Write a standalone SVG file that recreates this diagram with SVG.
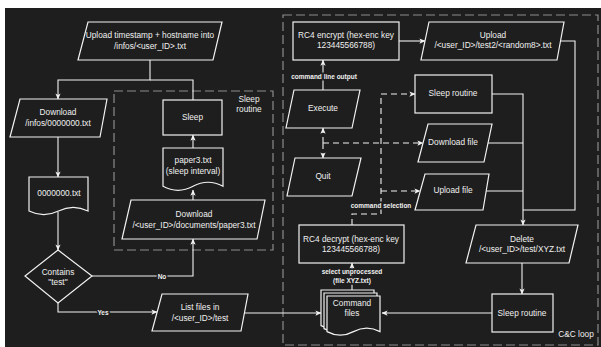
<svg xmlns="http://www.w3.org/2000/svg" width="601" height="347" viewBox="0 0 601 347">
<defs>
<style>
.bg{fill:#1e1e1e}
.sh{fill:#1e1e1e;stroke:#f2f2f2;stroke-width:1.2}
.ct{fill:none;stroke:#8c8c8c;stroke-width:1.2;stroke-dasharray:9 4}
.e{fill:none;stroke:#f2f2f2;stroke-width:1.1}
.d{fill:none;stroke:#f2f2f2;stroke-width:1.1;stroke-dasharray:6 4}
.ea{marker-end:url(#a)}
text{font-family:"Liberation Sans",Arial,sans-serif;font-size:8.3px;fill:#f0f0f0;text-anchor:middle;dominant-baseline:central}
.lb{font-size:6.5px;font-weight:bold;stroke:#1e1e1e;stroke-width:3;paint-order:stroke}
</style>
<marker id="a" viewBox="0 0 8 8" refX="7.5" refY="4" markerWidth="6" markerHeight="6" markerUnits="userSpaceOnUse" orient="auto"><path d="M0,0.5 L8,4 L0,7.5 L2,4 Z" fill="#f2f2f2"/></marker>
</defs>
<rect x="0" y="0" width="601" height="347" fill="#ffffff"/>
<rect class="bg" x="5" y="8" width="596" height="339"/>

<g id="containers">
<g id="sleep-routine-container"><rect class="ct" x="114" y="91" width="159" height="159"/><text x="249" y="99">Sleep</text><text x="249" y="109">routine</text></g>
<g id="cc-loop-container"><rect class="ct" x="283" y="15" width="315" height="330"/><text x="576" y="334">C&amp;C loop</text></g>
</g>

<g id="connectors">
<path class="e" d="M150,60 V80 H58 V99" marker-end="url(#a)"/>
<path class="e" d="M150,80 H193 V100"/>
<path class="e" d="M58,137 V177" marker-end="url(#a)"/>
<path class="e" d="M58,212 V250" marker-end="url(#a)"/>
<path class="e" d="M92,276 H193 V239" marker-end="url(#a)"/>
<path class="e" d="M58,303 V312 H157" marker-end="url(#a)"/>
<path class="e" d="M193,200 V190" marker-end="url(#a)"/>
<path class="e" d="M193,148 V135" marker-end="url(#a)"/>
<path class="e" d="M244.5,313 H321" marker-end="url(#a)"/>
<path class="e" d="M352,290 V263" marker-end="url(#a)"/>
<path class="d" d="M352,225 V214 H381 V94 H415" marker-end="url(#a)"/>
<path class="d" d="M381,191 H420" marker-end="url(#a)"/>
<path class="d" d="M323,143 H423" marker-end="url(#a)"/>
<path class="d" d="M323,143 V128" marker-end="url(#a)"/>
<path class="d" d="M323,143 V158" marker-end="url(#a)"/>
<path class="e" d="M323,90 V60" marker-end="url(#a)"/>
<path class="e" d="M399,41 H425" marker-end="url(#a)"/>
<path class="e" d="M560.5,41 H575 V210 H523"/>
<path class="e" d="M492,94 H523 V225" marker-end="url(#a)"/>
<path class="e" d="M488,143 H523"/>
<path class="e" d="M486,191 H523"/>
<path class="e" d="M522,263 V294" marker-end="url(#a)"/>
<path class="e" d="M492,313 H382" marker-end="url(#a)"/>
<text class="lb" x="162" y="276">No</text>
<text class="lb" x="103" y="312">Yes</text>
<text class="lb" x="324" y="76">command line output</text>
<text class="lb" x="381" y="205">command selection</text>
<text class="lb" x="352" y="271">select unprocessed</text>
<text class="lb" x="352" y="280">(file XYZ.txt)</text>
</g>

<g id="upload-timestamp"><path class="sh" d="M88,22 H222 L213,60 H78 Z"/><text x="150" y="35">Upload timestamp + hostname into</text><text x="150" y="46">/infos/&lt;user_ID&gt;.txt</text></g>
<g id="download-infos"><path class="sh" d="M20,99 H107 L100,137 H10 Z"/><text x="58" y="112">Download</text><text x="58" y="123">/infos/0000000.txt</text></g>
<g id="doc-0000000"><path class="sh" d="M29,177 H88 V211 Q73.25,203.8 58.5,211 Q43.75,218.2 29,211 Z"/><text x="59" y="193">0000000.txt</text></g>
<g id="contains-test"><path class="sh" d="M58,250 L92,276 L58,303 L25,276 Z"/><text x="58" y="272">Contains</text><text x="58" y="282">"test"</text></g>
<g id="sleep"><rect class="sh" x="163" y="100" width="59" height="35"/><text x="192.5" y="117">Sleep</text></g>
<g id="paper3"><path class="sh" d="M163,148 H223 V186.3 Q208,178.2 193,186.3 Q178,194.4 163,186.3 Z"/><text x="193" y="160">paper3.txt</text><text x="193" y="171">(sleep interval)</text></g>
<g id="download-paper3"><path class="sh" d="M131,200 H265 L257,239 H122 Z"/><text x="194" y="214">Download</text><text x="194" y="225">/&lt;user_ID&gt;/documents/paper3.txt</text></g>
<g id="list-files"><path class="sh" d="M162,294 H248 L241,331 H152 Z"/><text x="200" y="307">List files in</text><text x="200" y="318">/&lt;user_ID&gt;/test</text></g>

<g id="rc4-encrypt"><rect class="sh" x="293" y="22" width="106" height="38"/><text x="346" y="35">RC4 encrypt (hex-enc key</text><text x="346" y="45">123445566788)</text></g>
<g id="upload-test2"><path class="sh" d="M429,22 H564 L557,60 H421 Z"/><text x="493" y="35">Upload</text><text x="493" y="45">/&lt;user_ID&gt;/test2/&lt;random8&gt;.txt</text></g>
<g id="execute"><path class="sh" d="M294,90 H360 L352,128 H286 Z"/><text x="323" y="108">Execute</text></g>
<g id="quit"><path class="sh" d="M295,158 H361 L352,196 H287 Z"/><text x="323" y="176">Quit</text></g>
<g id="sleep-routine-1"><rect class="sh" x="415" y="75" width="77" height="38"/><text x="453" y="93">Sleep routine</text></g>
<g id="download-file"><path class="sh" d="M428,124 H492 L484,162 H418 Z"/><text x="453" y="142">Download file</text></g>
<g id="upload-file"><path class="sh" d="M425,174 H489 L483,210 H415 Z"/><text x="453" y="190">Upload file</text></g>
<g id="rc4-decrypt"><rect class="sh" x="299" y="225" width="105" height="38"/><text x="351" y="239">RC4 decrypt (hex-enc key</text><text x="351" y="249">123445566788)</text></g>
<g id="delete"><path class="sh" d="M476,225 H578 L569,263 H466 Z"/><text x="522" y="239">Delete</text><text x="522" y="249">/&lt;user_ID&gt;/test/XYZ.txt</text></g>
<g id="sleep-routine-2"><rect class="sh" x="492" y="294" width="61" height="38"/><text x="522" y="313">Sleep routine</text></g>
<g id="command-files">
<path class="sh" d="M321,290 H374 V325.6 Q360.75,318.5 347.5,325.6 Q334.25,332.7 321,325.6 Z"/>
<path class="sh" d="M324,293 H377 V328.6 Q363.75,321.5 350.5,328.6 Q337.25,335.7 324,328.6 Z"/>
<path class="sh" d="M327,296 H380 V331.6 Q366.75,324.5 353.5,331.6 Q340.25,338.7 327,331.6 Z"/>
<text x="352" y="303">Command</text><text x="352" y="313">files</text>
</g>
</svg>
